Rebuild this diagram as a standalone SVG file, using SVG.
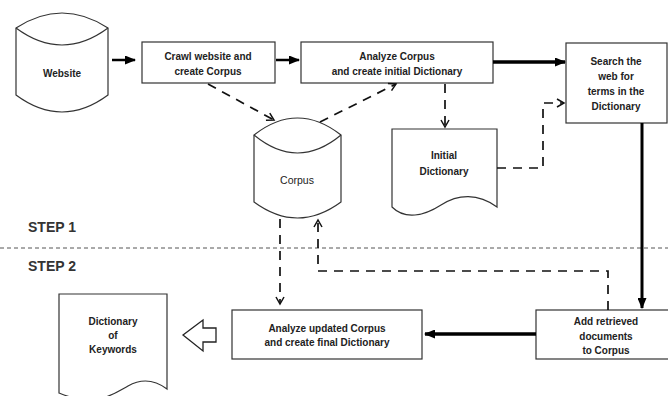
<svg xmlns="http://www.w3.org/2000/svg" width="668" height="396" viewBox="0 0 668 396">
<style>
.shape{fill:#fff;stroke:#333;stroke-width:1.2}
.t{font-family:"Liberation Sans",Arial,sans-serif;font-size:10px;font-weight:bold;fill:#222;text-anchor:middle}
.tn{font-weight:normal;font-size:10.5px}
.thick{stroke:#000;fill:none;marker-end:url(#solid)}
.dash{stroke:#111;stroke-width:1.7;fill:none;stroke-dasharray:9,7;marker-end:url(#open)}
.step{font-family:"Liberation Sans",Arial,sans-serif;font-size:14px;font-weight:bold;fill:#333}
</style>
<defs>
<marker id="solid" markerUnits="userSpaceOnUse" markerWidth="11" markerHeight="9" refX="10" refY="4.5" orient="auto">
<path d="M0,0 L11,4.5 L0,9 Z" fill="#000"/>
</marker>
<marker id="open" markerUnits="userSpaceOnUse" markerWidth="10" markerHeight="12" refX="8" refY="5" orient="auto">
<path d="M1,1 L8,5 L1,9" fill="none" stroke="#111" stroke-width="1.5"/>
</marker>
</defs>
<rect width="668" height="396" fill="#fff"/>

<line x1="0" y1="248" x2="668" y2="248" stroke="#555" stroke-width="1" stroke-dasharray="4,3"/>
<text class="step" x="28" y="232">STEP 1</text>
<text class="step" x="28" y="271">STEP 2</text>

<g id="website">
<path class="shape" d="M16,28 Q62,-2 108,28 V95 Q62,129 16,95 Z"/>
<path class="shape" fill="none" d="M16,28 Q62,62 108,28"/>
<text class="t" x="62" y="77">Website</text>
</g>

<g id="crawl">
<rect class="shape" x="142" y="42" width="133" height="41"/>
<text class="t" x="208" y="60">Crawl website and</text>
<text class="t" x="208" y="75">create Corpus</text>
</g>

<g id="analyze">
<rect class="shape" x="301" y="42" width="192" height="41"/>
<text class="t" x="397" y="60">Analyze Corpus</text>
<text class="t" x="397" y="75">and create initial Dictionary</text>
</g>

<g id="search">
<rect class="shape" x="566" y="43" width="101" height="80"/>
<text class="t" x="616" y="65">Search the</text>
<text class="t" x="616" y="80">web for</text>
<text class="t" x="616" y="95">terms in the</text>
<text class="t" x="616" y="110">Dictionary</text>
</g>

<g id="corpus">
<path class="shape" d="M254,135 Q297.5,101 341,135 V202 Q297.5,234 254,202 Z"/>
<path class="shape" fill="none" d="M254,135 Q297.5,171 341,135"/>
<text class="t tn" x="297" y="184">Corpus</text>
</g>

<g id="initial-dictionary">
<path class="shape" d="M392,129 H497 V207 C478,193 458,194 441,205 C424,216 405,220 392,207 Z"/>
<text class="t" x="444" y="159">Initial</text>
<text class="t" x="444" y="175">Dictionary</text>
</g>

<g id="add">
<rect class="shape" x="536" y="310" width="134" height="49"/>
<text class="t" x="606" y="325">Add retrieved</text>
<text class="t" x="606" y="340">documents</text>
<text class="t" x="606" y="354">to Corpus</text>
</g>

<g id="final">
<rect class="shape" x="232" y="310" width="190" height="49"/>
<text class="t" x="327" y="332">Analyze updated Corpus</text>
<text class="t" x="327" y="346">and create final Dictionary</text>
</g>

<g id="keywords">
<path class="shape" d="M59,294 H167 V389 C155,380 142,378 128,386 C112,395 95,408 59,393 Z"/>
<text class="t" x="113" y="325">Dictionary</text>
<text class="t" x="113" y="339">of</text>
<text class="t" x="113" y="353">Keywords</text>
</g>

<g id="output-arrow">
<path d="M183,335 L203,320 V328 H216 V342 H203 V351 Z" fill="#fff" stroke="#222" stroke-width="1.3"/>
</g>

<g id="connectors">
<line class="thick" x1="112" y1="60" x2="135" y2="60" stroke-width="2.5"/>
<line class="thick" x1="276" y1="60" x2="299" y2="60" stroke-width="2.5"/>
<line class="thick" x1="493" y1="62" x2="565" y2="62" stroke-width="3.5"/>
<line class="thick" x1="642" y1="123" x2="642" y2="308" stroke-width="3"/>
<line class="thick" x1="536" y1="334" x2="425" y2="334" stroke-width="3.5"/>
<line class="dash" x1="208" y1="84" x2="274" y2="120"/>
<line class="dash" x1="320" y1="122" x2="396" y2="84"/>
<line class="dash" x1="445" y1="84" x2="445" y2="127"/>
<path class="dash" d="M497,168 H543 V103 H564"/>
<line class="dash" x1="280" y1="219" x2="280" y2="304"/>
<path class="dash" d="M608,310 V271 H318 V220"/>
</g>
</svg>
